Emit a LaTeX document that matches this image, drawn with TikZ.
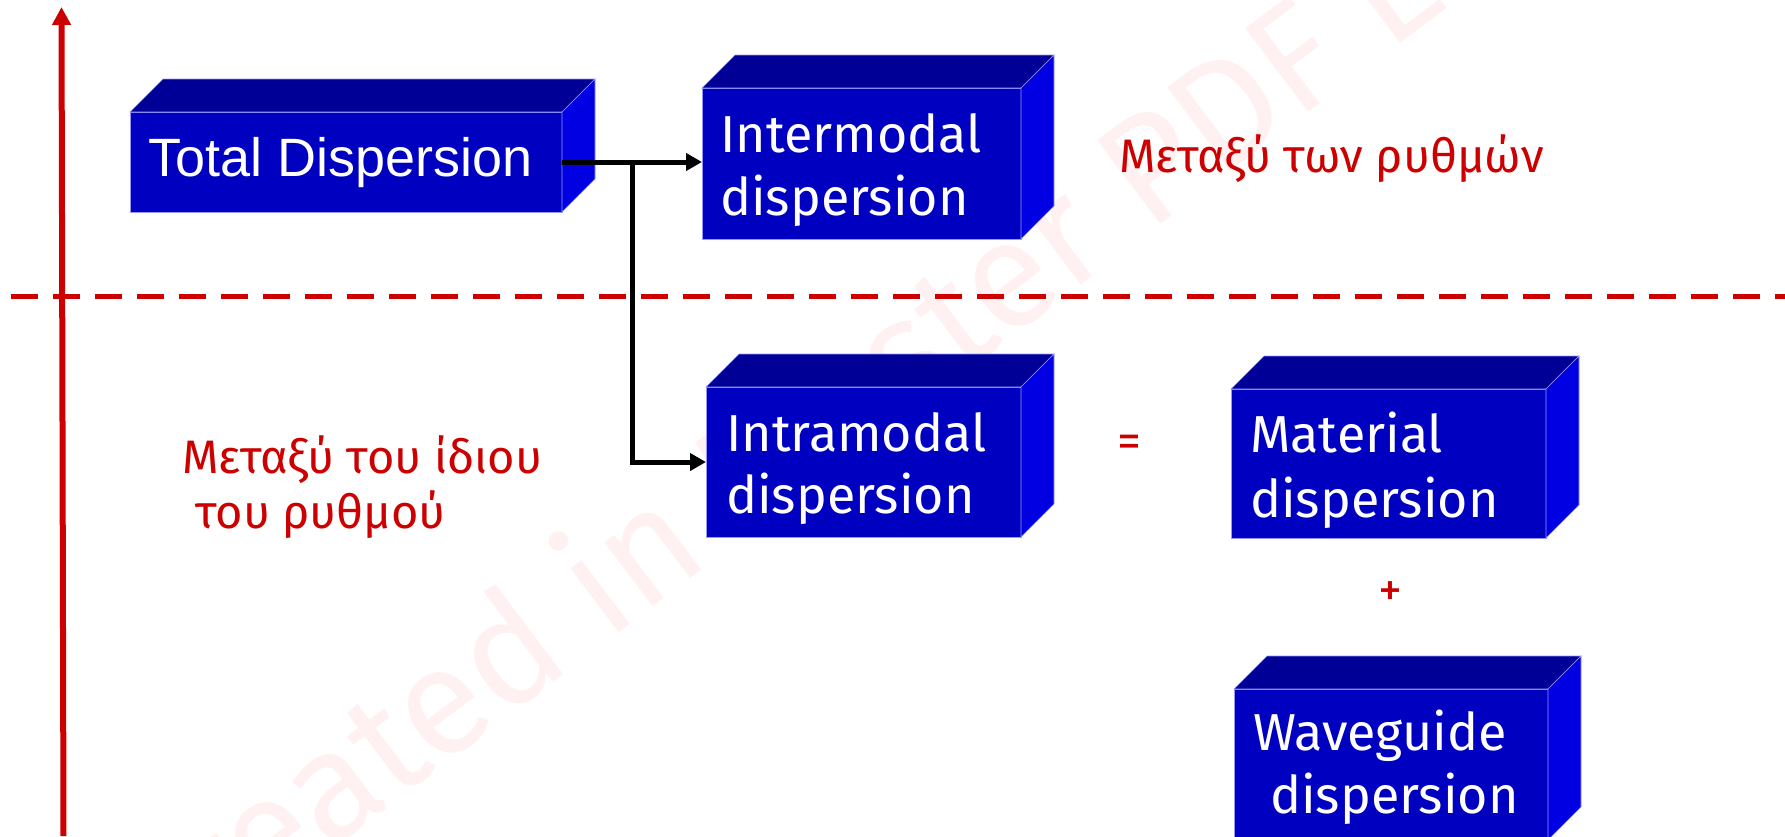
\documentclass[tikz,border=0pt]{standalone}
\usepackage{fontspec}
\setmainfont{Fira Sans}
\newfontfamily\arialfont{Liberation Sans}
\usetikzlibrary{arrows.meta,calc}
\definecolor{frontblue}{RGB}{0,0,192}
\definecolor{topblue}{RGB}{0,0,150}
\definecolor{sideblue}{RGB}{0,0,226}
\definecolor{edgeblue}{RGB}{150,150,255}
\definecolor{labelred}{RGB}{204,0,0}
\definecolor{markpink}{RGB}{255,241,241}

% a 3-D block: front face node plus top and right faces
\newcommand\blockbox[5]{%
  \node[front, minimum width=#4pt, minimum height=#5pt] (#1) at (#2,#3) {};
  \path[face, fill=topblue] (#1.north west) -- ++(33,-33)
    -- ($(#1.north east)+(33,-33)$) -- (#1.north east) -- cycle;
  \path[face, fill=sideblue] (#1.north east) -- ++(33,-33)
    -- ($(#1.south east)+(33,-33)$) -- (#1.south east) -- cycle;
}

\begin{document}
\begin{tikzpicture}[x=1pt,y=-1pt,
  face/.style={draw=edgeblue, line width=0.6pt, line join=miter},
  front/.style={face, fill=frontblue, rectangle, inner sep=0pt, outer sep=0pt, anchor=north west},
  boxtext/.style={text=white, font=\fontsize{52}{60}\selectfont, anchor=base west, inner sep=0pt},
  redtext/.style={text=labelred, font=\fontsize{47}{55}\selectfont, anchor=base west, inner sep=0pt},
  signtext/.style={text=labelred, font=\fontsize{48}{48}\selectfont, inner sep=0pt},
  conn/.style={line width=5pt, -{Triangle[length=16pt,width=17pt]}},
  ]
\useasboundingbox (0,0) rectangle (1785,836);

% watermark
\node[rotate=37, anchor=base west, text=markpink, inner sep=0pt,
  font=\fontsize{152}{152}\selectfont] (wm) at (154,983) {Created in Master PDF Editor};

% axis and separating line
\coordinate (dl) at (11,296);
\coordinate (dr) at (1785,296);
\draw[labelred, line width=5pt, dash pattern=on 27pt off 15pt] (dl) -- (dr);
\coordinate (axbot) at (63.5,836);
\coordinate (axtop) at (61.5,7);
\draw[labelred, line width=6pt, -{Triangle[length=18pt,width=18pt]}] (axbot) -- (axtop);

% blocks
\blockbox{tot}{130}{112}{432}{100}
\blockbox{inter}{702}{88}{319}{151}
\blockbox{intra}{706}{387}{315}{150}
\blockbox{mat}{1231}{389}{315}{149}
\blockbox{wave}{1234}{689}{314}{151}

% block labels
\node[boxtext, font=\arialfont\fontsize{54}{60}\selectfont] (totl) at (148,176) {Total Dispersion};
\node[boxtext] (interl1) at (720,152) {Intermodal};
\node[boxtext] (interl2) at (720,215) {dispersion};
\node[boxtext] (intral1) at (726,451) {Intramodal};
\node[boxtext] (intral2) at (726,513) {dispersion};
\node[boxtext] (matl1) at (1250,452) {Material};
\node[boxtext] (matl2) at (1250,517) {dispersion};
\node[boxtext] (wavel1) at (1253,750) {Waveguide};
\node[boxtext] (wavel2) at (1270,813) {dispersion};

% connectors
\draw[conn] (tot.east) -- (tot.east -| inter.west);
\coordinate (split) at (632,162);
\draw[conn] (split) |- (intra.west);

% red annotations
\node[redtext] (between) at (1119,172) {Μεταξύ των ρυθμών};
\node[redtext] (within1) at (182,473) {Μεταξύ του ίδιου};
\node[redtext] (within2) at (195,528) {του ρυθμού};
\node[signtext] (eq) at (1129,446) {=};
\node[signtext] (plus) at (1390,594) {+};
\end{tikzpicture}
\end{document}
